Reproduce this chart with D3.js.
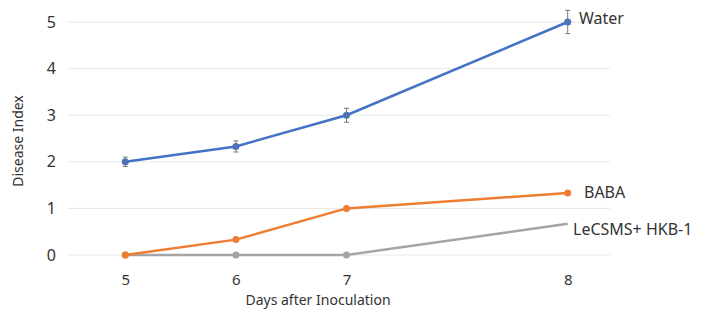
<!DOCTYPE html>
<html>
<head>
<meta charset="utf-8">
<script src="https://cdn.jsdelivr.net/npm/d3@7"></script>
<style>
  body { margin: 0; background: #fff; }
  text { font-family: "Noto Sans", "Open Sans", sans-serif; fill: #333; }
</style>
</head>
<body>
<script>
// x categories (the gap before 8 is in the original chart)
var days = ["5", "6", "7", "", "8"];
var dayPoints = ["5", "6", "7", "8"];
var yTicks = [0, 1, 2, 3, 4, 5];

var waterValues = [2, 2.33, 3, 5];
var waterErrors = [0.1, 0.12, 0.15, 0.25];
var babaValues = [0, 0.33, 1, 1.33];
var hkbValues = [0, 0, 0, 0.67];

var seriesNames = ["Water", "BABA", "LeCSMS+ HKB-1"];
var seriesColors = ["#4472C4", "#ED7D31", "#A5A5A5"];

var width = 708, height = 321;
var svg = d3.select("body").append("svg")
  .attr("width", width)
  .attr("height", height);

var x = d3.scalePoint()
  .domain(days)
  .range([70, 623])
  .padding(0.5);

var y = d3.scaleLinear()
  .domain([0, 5])
  .range([255, 22]);

// gridlines
svg.append("g").selectAll("line")
  .data(yTicks)
  .enter().append("line")
  .attr("x1", 68).attr("x2", 610)
  .attr("y1", function(d) { return y(d); })
  .attr("y2", function(d) { return y(d); })
  .attr("stroke", "#e8e8e8")
  .attr("stroke-width", 1);

// y axis labels
var yAxis = svg.append("g")
  .attr("transform", "translate(60,0)")
  .call(d3.axisLeft(y).tickValues(yTicks).tickFormat(d3.format("d")).tickSize(0).tickPadding(4));
yAxis.select(".domain").remove();
yAxis.selectAll("text").style("font-size", "16px").attr("fill", "#333");

// x axis labels
var xAxis = svg.append("g")
  .attr("transform", "translate(0,270)")
  .call(d3.axisBottom(x).tickValues(dayPoints).tickSize(0).tickPadding(4));
xAxis.select(".domain").remove();
xAxis.selectAll("text").style("font-size", "15px").attr("fill", "#333");

svg.append("text")
  .attr("transform", "translate(23,141) rotate(-90)")
  .attr("text-anchor", "middle")
  .style("font-size", "14px")
  .text("Disease Index");

svg.append("text")
  .attr("x", 318).attr("y", 305)
  .attr("text-anchor", "middle")
  .style("font-size", "14px")
  .text("Days after Inoculation");

var series = [
  { name: seriesNames[0], values: waterValues, color: seriesColors[0], markers: [true, true, true, true] },
  { name: seriesNames[1], values: babaValues, color: seriesColors[1], markers: [true, true, true, true] },
  { name: seriesNames[2], values: hkbValues, color: seriesColors[2], markers: [true, true, true, false] }
];

var line = d3.line()
  .x(function(d, i) { return x(dayPoints[i]); })
  .y(function(d) { return y(d); });

// draw bottom series first
series.slice().reverse().forEach(function(s) {
  svg.append("path")
    .datum(s.values)
    .attr("d", line)
    .attr("fill", "none")
    .attr("stroke", s.color)
    .attr("stroke-width", 2.5);

  svg.append("g").selectAll("circle")
    .data(s.values.filter(function(d, i) { return s.markers[i]; }))
    .enter().append("circle")
    .attr("cx", function(d, i) { return x(dayPoints[i]); })
    .attr("cy", function(d) { return y(d); })
    .attr("r", 3.5)
    .attr("fill", s.color);
});

// error bars for water
var eb = svg.append("g").attr("stroke", "#777").attr("stroke-width", 1);
waterValues.forEach(function(v, i) {
  var cx = x(dayPoints[i]), e = waterErrors[i];
  eb.append("line").attr("x1", cx).attr("x2", cx).attr("y1", y(v - e)).attr("y2", y(v + e));
  eb.append("line").attr("x1", cx - 2.5).attr("x2", cx + 2.5).attr("y1", y(v - e)).attr("y2", y(v - e));
  eb.append("line").attr("x1", cx - 2.5).attr("x2", cx + 2.5).attr("y1", y(v + e)).attr("y2", y(v + e));
});

// series labels
var labelPos = [[579, 24], [584, 198], [573, 235]];
series.forEach(function(s, i) {
  svg.append("text")
    .attr("x", labelPos[i][0]).attr("y", labelPos[i][1])
    .style("font-size", "16px")
    .text(s.name);
});
</script>
</body>
</html>
